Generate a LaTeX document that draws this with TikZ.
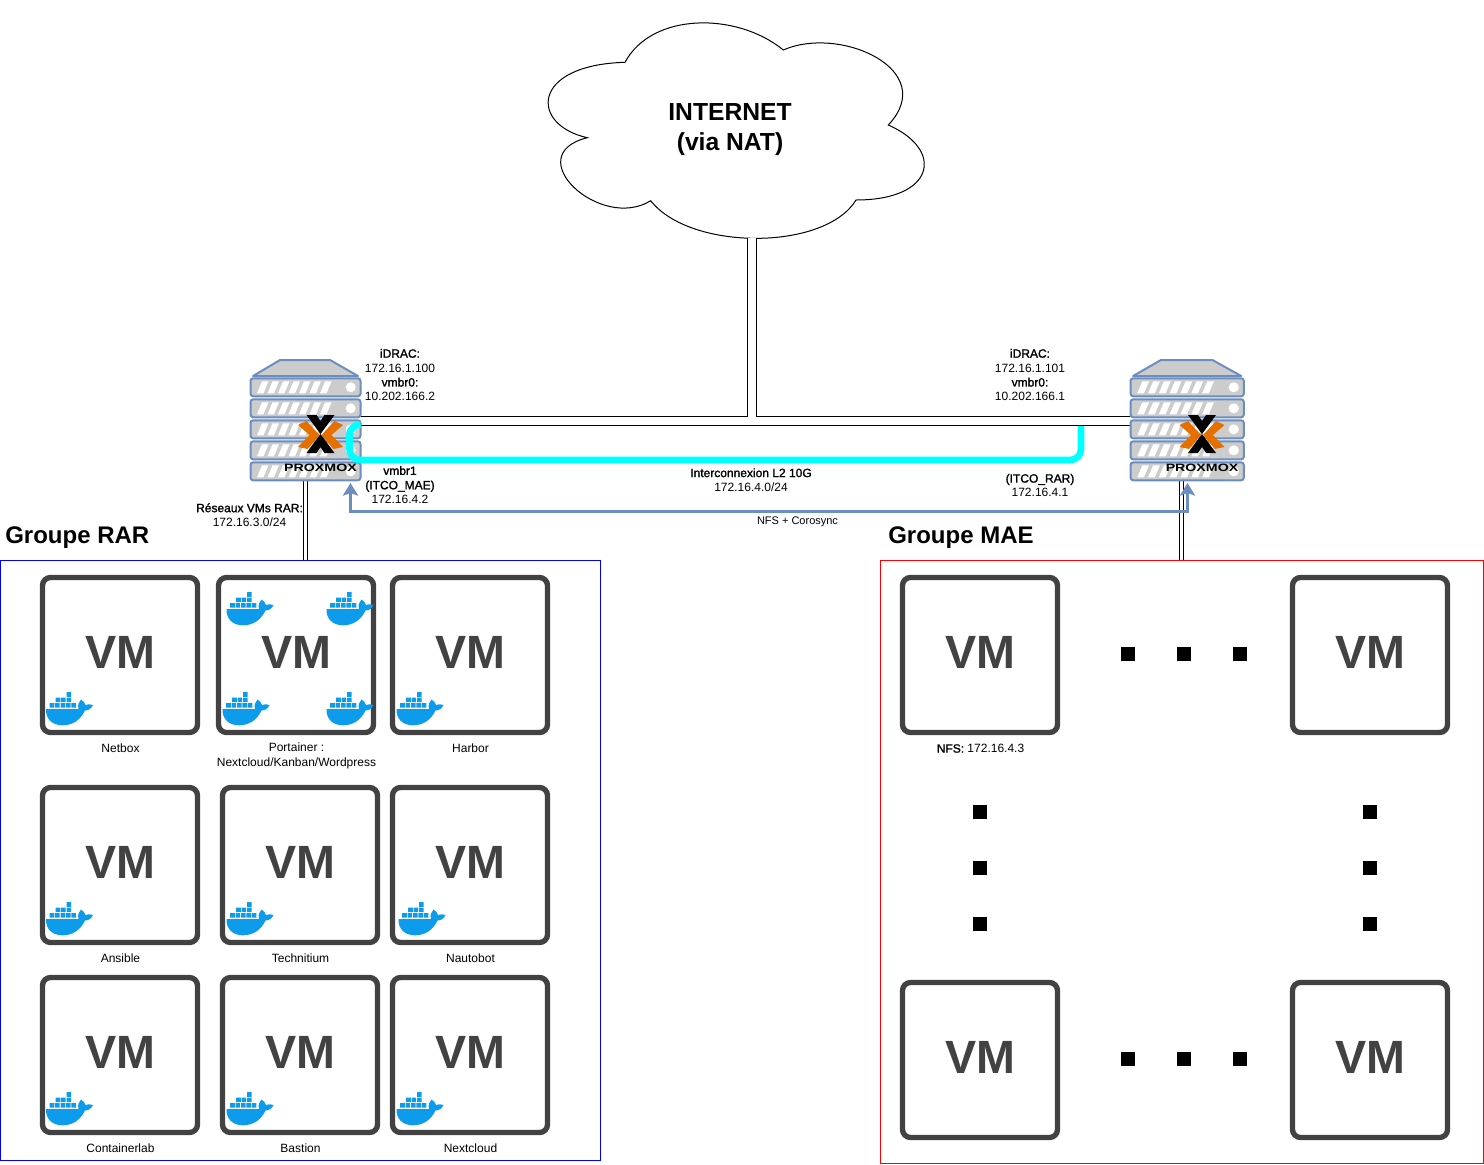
\documentclass[tikz,border=0pt]{standalone}
\usepackage{fontspec}
\usepackage{graphicx}
\setmainfont{Liberation Sans}
\newfontfamily\fauxbold[FakeBold=1.4]{Liberation Sans}
\newcommand{\heavy}[1]{{\fauxbold #1}}
\usetikzlibrary{arrows.meta}

\definecolor{rackGrey}{RGB}{204,204,204}
\definecolor{rackBlue}{RGB}{108,142,191}
\definecolor{vmGrey}{RGB}{66,66,66}
\definecolor{whaleBlue}{RGB}{13,156,236}
\definecolor{logoOrange}{RGB}{229,112,0}

\tikzset{
  smallText/.style={font=\fontsize{9pt}{10.8pt}\selectfont,align=center,inner sep=0pt},
  groupText/.style={font=\fontsize{18pt}{21pt}\selectfont\bfseries,inner sep=0pt,anchor=west},
  vmBox/.style={draw=vmGrey,fill=white,line width=4pt,rounded corners=6pt,minimum size=116.25pt,inner sep=0pt,
    text=vmGrey,text depth=4.5pt,font=\fontsize{35pt}{35pt}\selectfont\bfseries},
  groupFrame/.style={line width=0.75pt,inner sep=0pt},
  gridDot/.style={fill=black,minimum size=10.5pt,inner sep=0pt},
  wideLink/.style={double,double distance=6pt,line width=0.75pt},
  thinLink/.style={double,double distance=2.25pt,line width=0.75pt},
  itcoLink/.style={draw={rgb,255:red,0;green,255;blue,255},line width=5pt,rounded corners=8pt},
  nfsLink/.style={draw=rackBlue,line width=2.25pt,{Stealth[length=9.5pt,width=11.5pt,inset=2pt]}-{Stealth[length=9.5pt,width=11.5pt,inset=2pt]}},
  every pic/.style={yscale=-1},
  whale/.pic={
    \fill[whaleBlue] (21,0) rectangle (25.5,4.8) (10,5.6) rectangle (14.8,10.2) (15.6,5.6) rectangle (20.2,10.2) (21,5.6) rectangle (25.5,10.2)
      (4,11) rectangle (8.8,15.6) (9.6,11) rectangle (14.2,15.6) (15,11) rectangle (19.6,15.6) (20.4,11) rectangle (25,15.6) (25.8,11) rectangle (30.4,15.6);
    \fill[whaleBlue] (0.5,17) -- (33,17) .. controls (32,13) and (33,10) .. (35.5,7.5) .. controls (38,9) and (39.5,11) .. (40,13) .. controls (42,12) and (45,12) .. (47.5,13) .. controls (46,16.5) and (43,18.5) .. (39.5,18.5) .. controls (35,28) and (27,33.3) .. (17,33.3) .. controls (6,33.3) and (0,26) .. (0.5,17) -- cycle;
  },
  rack/.pic={
    \draw[draw=rackBlue,fill=rackGrey,line width=1.5pt,line join=round] (30,0) -- (80,0) -- (108,16) -- (3,16) -- cycle;
    \foreach \rowY in {18.3,39.3,60.3,81.3,102.3} {
      \draw[draw=rackBlue,fill=rackGrey,line width=1.5pt,rounded corners=2pt] (0.5,\rowY) rectangle (110.5,\rowY+18);
      \foreach \stripeX in {7,17.5,28,38.5,49,59.5,70}
        \fill[white] (\stripeX,\rowY+15) -- (\stripeX+6.5,\rowY+15) -- (\stripeX+11.5,\rowY+3) -- (\stripeX+5,\rowY+3) -- cycle;
      \fill[white] (100.7,\rowY+9) circle [radius=5];
    }
  },
  rackLogo/.pic={
    \fill[black] (-14,-20) -- (-4,-20) -- (0,-14) -- (4,-20) -- (14,-20) -- (0,-1) -- cycle;
    \fill[black] (-14,18) -- (-4,18) -- (0,12) -- (4,18) -- (14,18) -- (0,-1) -- cycle;
    \fill[logoOrange] (-22.5,-10) -- (-14,-14) -- (-1,0) -- (-13,14) -- (-22.5,12) -- (-11,0) -- cycle;
    \fill[logoOrange] (22.5,-10) -- (14,-14) -- (1,0) -- (13,14) -- (22.5,12) -- (11,0) -- cycle;
    \node (word) at (0,32.5) [inner sep=0pt,font=\fontsize{8pt}{8pt}\selectfont\bfseries] {\scalebox{1.33}[1]{PROXMOX}};
  }
}

\begin{document}
\begin{tikzpicture}[x=0.75pt,y=0.75pt,yscale=-1,xscale=1]
\useasboundingbox (0,0) rectangle (1484,1164);

%Shape: Cloud
\draw [line width=0.75pt] (587.3,137.7) .. controls (530,125) and (530,65) .. (625,62.3) .. controls (652,12) and (737,12) .. (783.3,50) .. controls (840,25) and (940,70) .. (888.3,125) .. controls (945,150) and (935,200) .. (856,200) .. controls (825,251) and (690,251) .. (650.7,200.7) .. controls (600,232) and (518,155) .. (587.3,137.7) -- cycle ;
% Text Node
\node (internet) [align=center,inner sep=0pt,font=\fontsize{18.5pt}{22.5pt}\selectfont\bfseries] at (730,129.5) {INTERNET\\(via NAT)};
\coordinate (cloudFoot) at (751.5,238);

%Servers
\node (srvRar) [minimum width=83.25pt,minimum height=90.75pt,inner sep=0pt] at (305.5,420.5) {};
\node (srvMae) [minimum width=85.5pt,minimum height=90.75pt,inner sep=0pt] at (1187,420.5) {};
\coordinate (linkRar) at (305.5,481);
\coordinate (linkMae) at (1181.5,481);

%Group frames
\node (grpRar) [groupFrame,draw=blue,minimum width=450pt,minimum height=450pt] at (300,860) {};
\node (grpMae) [groupFrame,draw=red,minimum width=452.25pt,minimum height=452.25pt] at (1181.5,861.5) {};

%Straight Lines
\draw [wideLink] (srvRar.east) -- (srvMae.west) (cloudFoot) -- (cloudFoot |- srvRar.east) ;
\draw [thinLink] (linkRar) -- (linkRar |- grpRar.north) ;
\draw [thinLink] (linkMae) -- (linkMae |- grpMae.north) ;

\pic at (250,360) {rack};
\pic [xscale=1.03] at (1130,360) {rack};
\pic at (320.5,435) {rackLogo};
\pic at (1202,435) {rackLogo};

%Interconnexion
\coordinate (itcoRar) at (360,424.5);
\coordinate (itcoBend) at (349.5,460);
\coordinate (itcoMae) at (1081,426);
\draw [itcoLink] (itcoRar) -| (itcoBend) -| (itcoMae) ;
%NFS
\coordinate (nfsRar) at (350.5,483);
\coordinate (nfsBend) at (350.5,511);
\coordinate (nfsMae) at (1187.5,483);
\draw [nfsLink] (nfsRar) -- (nfsBend) -| (nfsMae) ;

% Text Node
\node (ipRar) [smallText] at (400,375) {\heavy{iDRAC:}\\172.16.1.100\\\heavy{vmbr0:}\\10.202.166.2};
% Text Node
\node (ipMae) [smallText] at (1030,375) {\heavy{iDRAC:}\\172.16.1.101\\\heavy{vmbr0:}\\10.202.166.1};
% Text Node
\node (itcoMaeText) [smallText] at (400,485) {\heavy{vmbr1}\\\heavy{(ITCO\_MAE)}\\172.16.4.2};
% Text Node
\node (itcoRarText) [smallText] at (1040,485.5) {\heavy{(ITCO\_RAR)}\\172.16.4.1};
% Text Node
\node (itcoText) [smallText] at (751,480) {\heavy{Interconnexion L2 10G}\\172.16.4.0/24};
% Text Node
\node (nfsText) [smallText,font=\fontsize{8.25pt}{10pt}\selectfont] at (797.5,521.5) {NFS + Corosync};
% Text Node
\node (vmNetText) [smallText] at (249.5,515) {\heavy{Réseaux VMs RAR:}\\172.16.3.0/24};
% Text Node
\node (grpRarText) [groupText] at (5,538) {Groupe RAR};
% Text Node
\node (grpMaeText) [groupText] at (888,538) {Groupe MAE};

%Shape: VM, group RAR
\node (vmNetbox) [vmBox] at (120,655) {VM};
\node (vmPortainer) [vmBox] at (296,655) {VM};
\node (vmHarbor) [vmBox] at (470,655) {VM};
\node (vmAnsible) [vmBox] at (120,865) {VM};
\node (vmTechnitium) [vmBox] at (300,865) {VM};
\node (vmNautobot) [vmBox] at (470,865) {VM};
\node (vmContainerlab) [vmBox] at (120,1055) {VM};
\node (vmBastion) [vmBox] at (300,1055) {VM};
\node (vmNextcloud) [vmBox] at (470,1055) {VM};
%Shape: VM, group MAE
\node (vmMaeA) [vmBox] at (980,655) {VM};
\node (vmMaeB) [vmBox] at (1370,655) {VM};
\node (vmMaeC) [vmBox] at (980,1060) {VM};
\node (vmMaeD) [vmBox] at (1370,1060) {VM};

%Shape: Whales
\pic at (45.5,692) {whale};
\pic at (226,592) {whale};
\pic at (326,592) {whale};
\pic at (222,692) {whale};
\pic at (326,692) {whale};
\pic at (396,692) {whale};
\pic at (45.5,902) {whale};
\pic at (226,902) {whale};
\pic at (398,902) {whale};
\pic at (45.5,1092) {whale};
\pic at (226,1092) {whale};
\pic at (396,1092) {whale};

% Text Node
\node (txtNetbox) [smallText] at (120.5,748.5) {Netbox};
\node (txtPortainer) [smallText] at (296.5,756) {Portainer :\\Nextcloud/Kanban/Wordpress};
\node (txtHarbor) [smallText] at (470.5,748.5) {Harbor};
\node (txtNfs) [smallText] at (980.5,748.5) {\heavy{NFS:} 172.16.4.3};
\node (txtAnsible) [smallText] at (120.5,958.5) {Ansible};
\node (txtTechnitium) [smallText] at (300.5,958.5) {Technitium};
\node (txtNautobot) [smallText] at (470.5,958.5) {Nautobot};
\node (txtContainerlab) [smallText] at (120.5,1148.5) {Containerlab};
\node (txtBastion) [smallText] at (300.5,1148.5) {Bastion};
\node (txtNextcloud) [smallText] at (470.5,1148.5) {Nextcloud};

%Shape: Dots
\node (dotTopA) [gridDot] at (1127.5,654) {};
\node (dotTopB) [gridDot] at (1183.5,654) {};
\node (dotTopC) [gridDot] at (1239.5,654) {};
\node (dotBotA) [gridDot] at (1127.5,1059) {};
\node (dotBotB) [gridDot] at (1183.5,1059) {};
\node (dotBotC) [gridDot] at (1239.5,1059) {};
\node (dotLeftA) [gridDot] at (979.5,812) {};
\node (dotLeftB) [gridDot] at (979.5,868) {};
\node (dotLeftC) [gridDot] at (979.5,924) {};
\node (dotRightA) [gridDot] at (1369.5,812) {};
\node (dotRightB) [gridDot] at (1369.5,868) {};
\node (dotRightC) [gridDot] at (1369.5,924) {};

\end{tikzpicture}
\end{document}
